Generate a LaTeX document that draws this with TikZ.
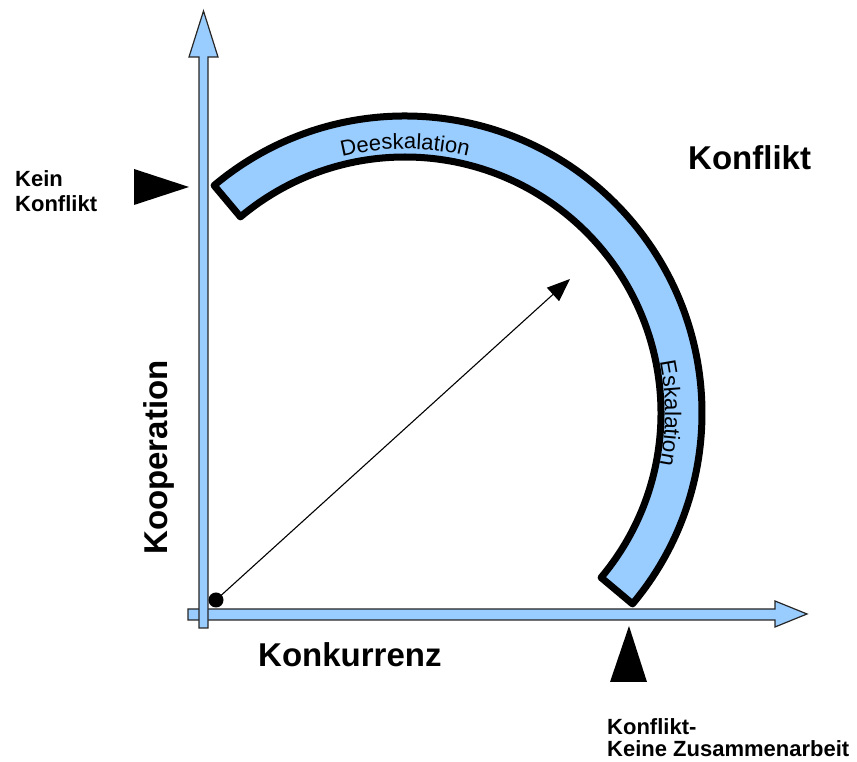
\documentclass[tikz,border=0pt]{standalone}
\usepackage{fontspec}
\setmainfont{Liberation Sans}
\usetikzlibrary{arrows.meta,decorations.text,calc}
\definecolor{lb}{HTML}{99CCFF}
\newcommand\arcfontA{\fontsize{22}{22}\selectfont}
\newcommand\arcfontB{\fontsize{22.5}{22.5}\selectfont}
\begin{document}
\begin{tikzpicture}[x=1pt,y=1pt,
  axis/.style={fill=lb,draw=black!85,line width=1.2pt,line join=miter},
  band/.style={fill=lb,draw=black,line width=7pt,line join=round},
  marker/.style={fill=black,draw=none},
  bigtxt/.style={font=\bfseries\fontsize{33}{36}\selectfont,inner sep=0pt},
  smalltxt/.style={font=\bfseries\fontsize{22}{25}\selectfont,inner sep=0pt}]
\useasboundingbox (0,0) rectangle (857,762);
% axes
\draw[axis] (188,142) -- (775,142) -- (775,135) -- (807,148) -- (775,161) -- (775,153) -- (188,153) -- cycle;
\draw[axis] (199,134) -- (208,134) -- (208,705) -- (218,705) -- (203.5,751) -- (189,705) -- (199,705) -- cycle;
% band
\coordinate (c) at (405,349);
\draw[band] ($(c)+(130:297)$) arc[start angle=130,end angle=-40,radius=297]
  -- ($(c)+(-40:256)$) arc[start angle=-40,end angle=130,radius=256] -- cycle;
\path[decorate,decoration={text along path,text align=center,text={|\arcfontA|Deeskalation}}]
  ($(c)+(120:264)$) arc[start angle=120,end angle=60,radius=264];
\path[decorate,decoration={text along path,text align=center,text={|\arcfontB|Eskalation}}]
  ($(c)+(28:260)$) arc[start angle=28,end angle=-28,radius=260];
% diagonal arrow
\node[circle,fill=black,inner sep=0pt,minimum size=15pt] (origin) at (216,162) {};
\coordinate (tipend) at (570,483);
\draw[line width=1.1pt,-{Triangle[length=23pt,width=18pt]}] (origin.center) -- (tipend);
% markers
\fill[marker] (134,593) -- (134,557) -- (189,575) -- cycle;
\fill[marker] (610,80) -- (647,80) -- (629,136) -- cycle;
% labels
\node[bigtxt,anchor=base west] (konflikt) at (688,592) {Konflikt};
\node[bigtxt,anchor=base west] (konkurrenz) at (258,95) {Konkurrenz};
\node[bigtxt,anchor=base west,rotate=90] (kooperation) at (167,207) {Kooperation};
\node[smalltxt,anchor=base west] (kein1) at (15,575) {Kein};
\node[smalltxt,anchor=base west] (kein2) at (15,550) {Konflikt};
\node[smalltxt,anchor=base west] (zus1) at (607,27) {Konflikt-};
\node[smalltxt,anchor=base west] (zus2) at (607,5) {Keine Zusammenarbeit};
\end{tikzpicture}
\end{document}
